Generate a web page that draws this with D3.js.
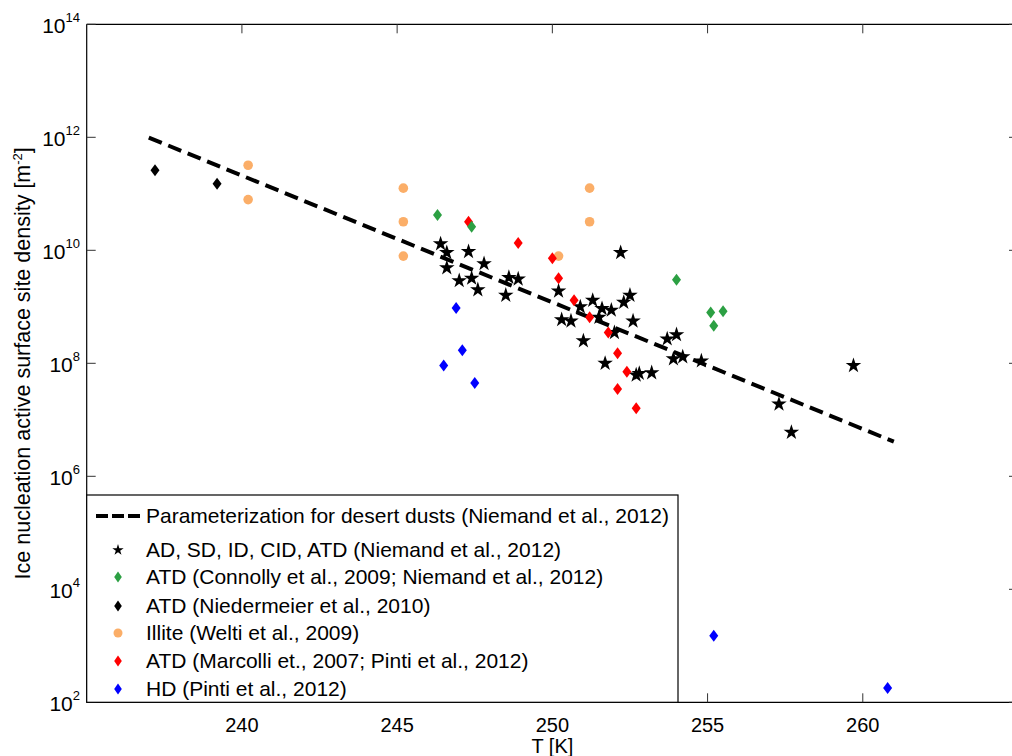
<!DOCTYPE html>
<html>
<head>
<meta charset="utf-8">
<script src="https://cdn.jsdelivr.net/npm/d3@7"></script>
<style>
  body { margin: 0; background: #fff; }
  svg { font-family: "Liberation Sans", Arial, Helvetica, sans-serif; }
</style>
</head>
<body>
<div id="chart"></div>
<script>
// parameterization line (Niemand et al., 2012), end points
var lineT = [237, 261];
var lineNs = [9.9e11, 4.1e6];

// AD, SD, ID, CID, ATD (Niemand et al., 2012)
var starT = [246.4, 246.6, 247.3, 246.6, 247.8, 247.0, 247.4, 247.6, 248.6, 248.9, 248.5,
             252.2, 250.2, 250.9, 251.3, 251.6, 251.9, 252.5, 252.3, 250.3, 250.6, 251.5,
             252.6, 252.0, 251.0, 251.7, 252.7, 252.8, 253.2, 253.7, 254.0, 253.9, 254.2,
             254.8, 257.3, 257.7, 259.7];
var starNs = [1.3e10, 9.1e9, 9.5e9, 4.9e9, 5.8e9, 2.9e9, 3.2e9, 2.0e9, 3.3e9, 3.1e9, 1.6e9,
              9.1e9, 1.9e9, 1.0e9, 1.3e9, 9.3e8, 8.7e8, 1.6e9, 1.2e9, 5.9e8, 5.6e8, 6.5e8,
              5.6e8, 3.5e8, 2.5e8, 1.0e8, 6.2e7, 6.6e7, 6.8e7, 2.7e8, 3.2e8, 1.2e8, 1.3e8,
              1.1e8, 1.9e7, 6.0e6, 9.1e7];

// ATD (Connolly et al., 2009; Niemand et al., 2012)
var connT = [246.3, 247.4, 254.0, 255.1, 255.5, 255.2];
var connNs = [4.2e10, 2.6e10, 3.0e9, 7.9e8, 8.3e8, 4.6e8];

// ATD (Niedermeier et al., 2010)
var niedT = [237.2, 239.2];
var niedNs = [2.6e11, 1.5e11];

// Illite (Welti et al., 2009)
var weltiT = [240.2, 240.2, 245.2, 245.2, 245.2, 250.2, 251.2, 251.2];
var weltiNs = [3.2e11, 7.9e10, 1.26e11, 3.2e10, 7.9e9, 7.9e9, 1.26e11, 3.2e10];

// ATD (Marcolli et al., 2007; Pinti et al., 2012)
var marcT = [247.3, 248.9, 250.0, 250.2, 250.7, 251.2, 251.8, 252.1, 252.4, 252.1, 252.7];
var marcNs = [3.2e10, 1.35e10, 7.2e9, 3.2e9, 1.3e9, 6.5e8, 3.5e8, 1.5e8, 7.1e7, 3.5e7, 1.6e7];

// HD (Pinti et al., 2012)
var hdT = [246.9, 247.1, 246.5, 247.5, 255.2, 260.8];
var hdNs = [9.5e8, 1.7e8, 9.1e7, 4.5e7, 1.5e3, 1.8e2];

var xTicks = [240, 245, 250, 255, 260];
var yExps = [2, 4, 6, 8, 10, 12, 14];

var legendLabels = [
  "AD, SD, ID, CID, ATD (Niemand et al., 2012)",
  "ATD (Connolly et al., 2009; Niemand et al., 2012)",
  "ATD (Niedermeier et al., 2010)",
  "Illite (Welti et al., 2009)",
  "ATD (Marcolli et., 2007; Pinti et al., 2012)",
  "HD (Pinti et al., 2012)"
];

var width = 1012, height = 756;
var svg = d3.select("#chart").append("svg")
    .attr("width", width)
    .attr("height", height);

var x = d3.scaleLinear().domain([235, 265]).range([86.7, 1018]);
var y = d3.scaleLog().domain([1e2, 1e14]).range([702.3, 24.3]);

var diamond = "M0,-6L4.5,0L0,6L-4.5,0Z";
var diamondSmall = "M0,-5.5L3.8,0L0,5.5L-3.8,0Z";
var star = d3.symbol().type(d3.symbolStar).size(75)();
var starSmall = d3.symbol().type(d3.symbolStar).size(40)();

// axes frame
var pLeft = x.range()[0], pRight = x.range()[1];
var pTop = y.range()[1], pBottom = y.range()[0];

svg.append("line").attr("x1", pLeft).attr("x2", pLeft).attr("y1", pTop).attr("y2", pBottom)
    .attr("stroke", "#000").attr("stroke-width", 1.2);
svg.append("line").attr("x1", pLeft).attr("x2", pRight).attr("y1", pTop).attr("y2", pTop)
    .attr("stroke", "#000").attr("stroke-width", 1.2);
svg.append("line").attr("x1", pLeft).attr("x2", pRight).attr("y1", pBottom).attr("y2", pBottom)
    .attr("stroke", "#000").attr("stroke-width", 1.2);

// x ticks top and bottom
xTicks.forEach(function(t) {
    svg.append("line").attr("x1", x(t)).attr("x2", x(t)).attr("y1", pTop).attr("y2", pTop + 9)
        .attr("stroke", "#333").attr("stroke-width", 1);
    svg.append("line").attr("x1", x(t)).attr("x2", x(t)).attr("y1", pBottom).attr("y2", pBottom - 9)
        .attr("stroke", "#333").attr("stroke-width", 1);
    svg.append("text").attr("x", x(t)).attr("y", pBottom + 30)
        .attr("text-anchor", "middle").attr("font-size", 20).text(t);
});

// y ticks left and right
yExps.forEach(function(e) {
    var v = Math.pow(10, e);
    svg.append("line").attr("x1", pLeft).attr("x2", pLeft + 9).attr("y1", y(v)).attr("y2", y(v))
        .attr("stroke", "#333").attr("stroke-width", 1);
    svg.append("line").attr("x1", pRight).attr("x2", pRight - 9).attr("y1", y(v)).attr("y2", y(v))
        .attr("stroke", "#333").attr("stroke-width", 1);
    var tx = svg.append("text").attr("x", 80).attr("y", y(v) + 9)
        .attr("text-anchor", "end").attr("font-size", 21);
    tx.append("tspan").text("10");
    tx.append("tspan").attr("dy", -11).attr("font-size", 13).text(e);
});

// axis labels
svg.append("text").attr("x", (pLeft + pRight) / 2).attr("y", 753)
    .attr("text-anchor", "middle").attr("font-size", 20).text("T [K]");

var yl = svg.append("text")
    .attr("transform", "translate(30," + ((pTop + pBottom) / 2) + ") rotate(-90)")
    .attr("text-anchor", "middle").attr("font-size", 21.5);
yl.append("tspan").text("Ice nucleation active surface site density [m");
yl.append("tspan").attr("dy", -8).attr("font-size", 13).text("-2");
yl.append("tspan").attr("dy", 8).text("]");

// parameterization line
var lineData = lineT.map(function(t, i) { return [t, lineNs[i]]; });
svg.append("path")
    .datum(lineData)
    .attr("d", d3.line().x(function(d) { return x(d[0]); }).y(function(d) { return y(d[1]); }))
    .attr("fill", "none")
    .attr("stroke", "#000")
    .attr("stroke-width", 4)
    .attr("stroke-dasharray", "14,7");

function zip(ts, vs) {
    return ts.map(function(t, i) { return { t: t, v: vs[i] }; });
}

function drawPoints(data, shape, color) {
    svg.append("g").selectAll("path")
        .data(data)
        .enter().append("path")
        .attr("transform", function(d) { return "translate(" + x(d.t) + "," + y(d.v) + ")"; })
        .attr("d", shape)
        .attr("fill", color);
}

drawPoints(zip(starT, starNs), star, "#000");
drawPoints(zip(niedT, niedNs), diamond, "#000");

svg.append("g").selectAll("circle")
    .data(zip(weltiT, weltiNs))
    .enter().append("circle")
    .attr("cx", function(d) { return x(d.t); })
    .attr("cy", function(d) { return y(d.v); })
    .attr("r", 4.8)
    .attr("fill", "#fbae68");

drawPoints(zip(marcT, marcNs), diamond, "#ff0000");
drawPoints(zip(connT, connNs), diamond, "#2ca043");
drawPoints(zip(hdT, hdNs), diamond, "#0000ff");

// legend
var lg = svg.append("g");
lg.append("rect").attr("x", pLeft).attr("y", 495).attr("width", 678 - pLeft).attr("height", pBottom - 495)
    .attr("fill", "#fff").attr("stroke", "#000").attr("stroke-width", 1.2);

lg.append("line").attr("x1", 96).attr("x2", 141).attr("y1", 516).attr("y2", 516)
    .attr("stroke", "#000").attr("stroke-width", 4).attr("stroke-dasharray", "12,4");
lg.append("text").attr("x", 146).attr("y", 523).attr("font-size", 21)
    .text("Parameterization for desert dusts (Niemand et al., 2012)");

var legendY = [550, 577, 606, 633, 661, 689];
var legendShapes = [starSmall, diamondSmall, diamondSmall, null, diamondSmall, diamondSmall];
var legendColors = ["#000", "#2ca043", "#000", "#fbae68", "#ff0000", "#0000ff"];

legendLabels.forEach(function(label, i) {
    if (legendShapes[i]) {
        lg.append("path").attr("d", legendShapes[i])
            .attr("transform", "translate(118," + legendY[i] + ")")
            .attr("fill", legendColors[i]);
    } else {
        lg.append("circle").attr("cx", 118).attr("cy", legendY[i]).attr("r", 4.5)
            .attr("fill", legendColors[i]);
    }
    lg.append("text").attr("x", 146).attr("y", legendY[i] + 7).attr("font-size", 21).text(label);
});
</script>
</body>
</html>
